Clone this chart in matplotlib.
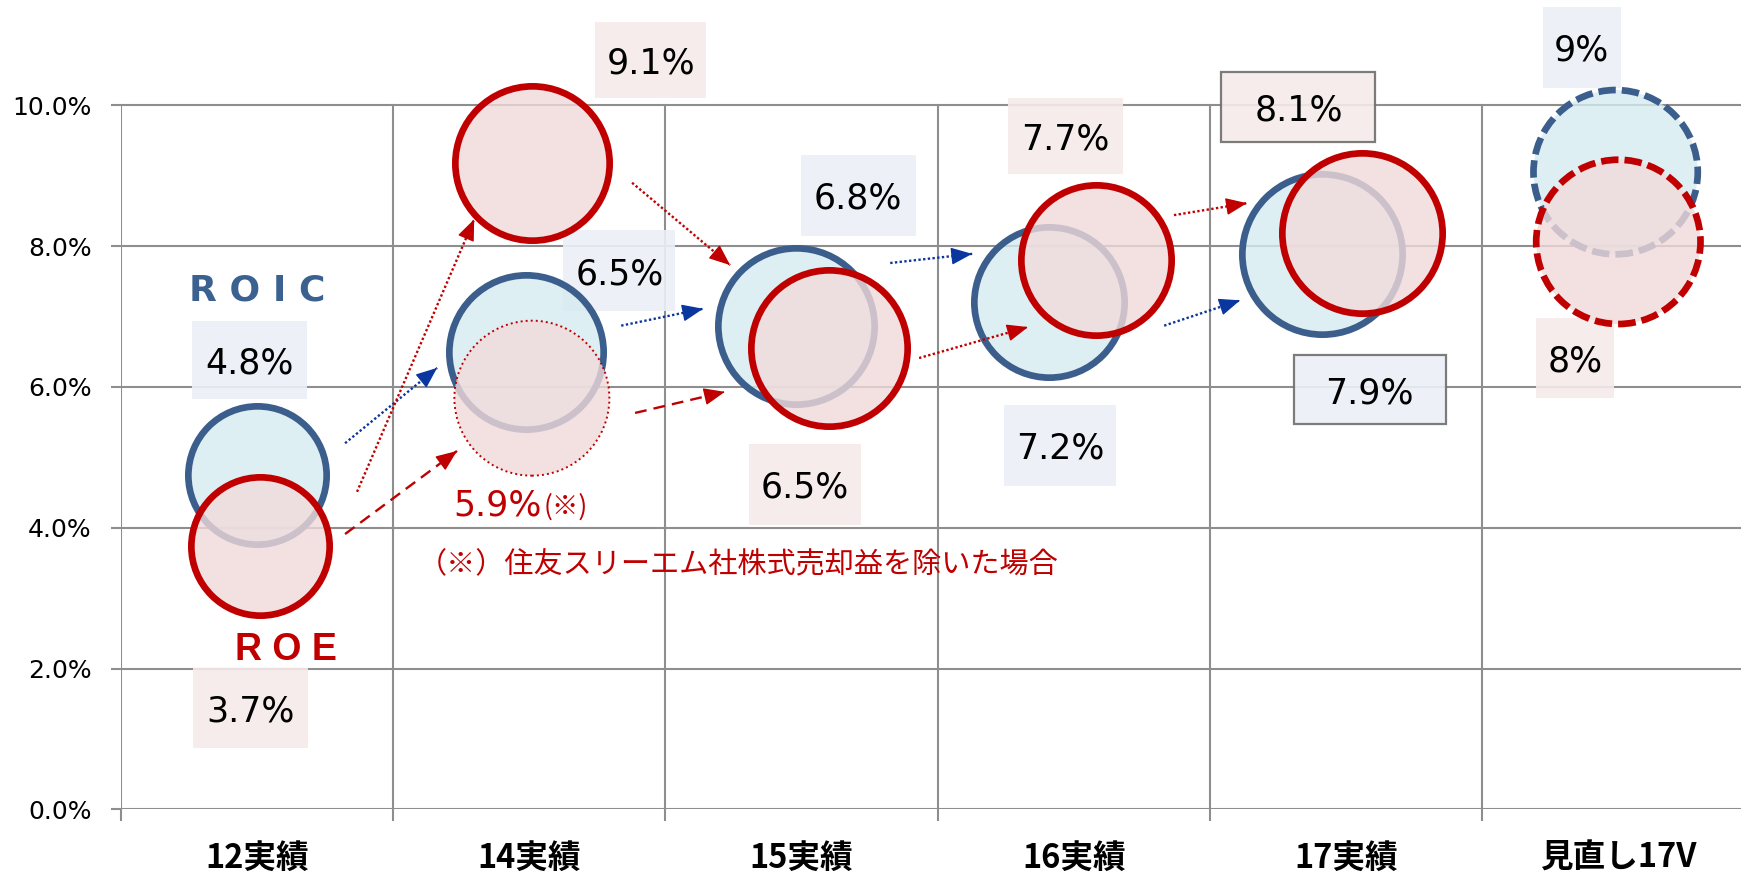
import matplotlib.pyplot as plt
from matplotlib.patches import Rectangle

# data
categories = ["12実績", "14実績", "15実績", "16実績", "17実績", "見直し17V"]
roic = [4.75, 6.50, 6.86, 7.20, 7.89, 9.05]
roe = [3.74, 9.18, 6.55, 7.80, 8.18, 8.06]
roe_adj = 5.84  # 14実績 ROE excluding the gain on sale of shares
roic_labels = ["4.8%", "6.5%", "6.8%", "7.2%", "7.9%", "9%"]
roe_labels = ["3.7%", "9.1%", "6.5%", "7.7%", "8.1%", "8%"]
roe_adj_label = "5.9%"
note = "（※）住友スリーエム社株式売却益を除いた場合"
yticks = [0, 2, 4, 6, 8, 10]

# layout (pixels)
W, H = 1741, 873
x_left, y_zero = 120.7, 809.3
px_cat, px_pct = 272.3, 70.4
bubble_px = [145, 161, 163, 157, 167, 171]
roic_dx = [0.0, -0.01, -0.02, -0.09, -0.09, -0.01]
roe_dx = [0.01, 0.01, 0.10, 0.08, 0.06, 0.0]
roic_lab = [(-7, 115, 115, 78), (93, 81, 112, 81), (62, 131, 115, 81),
            (11, -143, 112, 81), (48, -136, 152, 69), (-34, 125, 78, 81)]
roe_lab = [(-9, -162, 115, 80), (119, 103, 111, 76), (-24, -136, 112, 81),
           (-30, 124, 115, 76), (-64, 126, 154, 70), (-43, -116, 78, 80)]
boxed = [False, False, False, False, True, False]

BLUE = "#3B5E8C"
RED = "#C00000"
BLUE_FILL = (0.84, 0.92, 0.945, 0.8)
RED_FILL = (0.945, 0.855, 0.855, 0.8)
ARROW_BLUE = "#0A36A0"
GRID = "#8E8E8E"
CJK = ["Noto Sans CJK JP", "DejaVu Sans"]

fig = plt.figure(figsize=(W / 100, H / 100), dpi=100)
ax = fig.add_axes([x_left / W, (H - y_zero) / H, 1 - x_left / W, y_zero / H])
ax.set_xlim(-0.5, -0.5 + (W - x_left) / px_cat)
ax.set_ylim(0, y_zero / px_pct)

# grid
for v in yticks:
    ax.axhline(v, color=GRID, lw=1.5, zorder=1)
for b in range(6):
    ax.plot([b - 0.5, b - 0.5], [0, 10], color=GRID, lw=1.5, zorder=1)
for s in ax.spines.values():
    s.set_visible(False)
ax.set_yticks(yticks)
ax.set_yticklabels([f"{v:.1f}%" for v in yticks], fontsize=18)
ax.tick_params(axis="y", length=7, width=1.5, color=GRID, pad=14)
ax.set_xticks(range(6))
ax.set_xticklabels(categories, fontsize=23.5, fontweight="bold", family=CJK)
ax.tick_params(axis="x", length=0, pad=23.5)
ax.set_xticks([b - 0.5 for b in range(6)], minor=True)
ax.tick_params(axis="x", which="minor", length=8.5, width=1.5, color=GRID)


def marker_s(d, lw_px):
    return ((d - lw_px) * 0.72) ** 2


lw_px = 6.7
for i in range(6):
    ls = (0, (2.6, 0.9)) if i == 5 else "solid"
    ax.scatter(i + roic_dx[i], roic[i], s=marker_s(bubble_px[i], lw_px),
               facecolor=BLUE_FILL, edgecolor=BLUE, linewidth=lw_px * 0.72,
               linestyle=ls, zorder=3)
for i in range(6):
    ls = (0, (2.6, 0.9)) if i == 5 else "solid"
    ax.scatter(i + roe_dx[i], roe[i], s=marker_s(bubble_px[i], lw_px),
               facecolor=RED_FILL, edgecolor=RED, linewidth=lw_px * 0.72,
               linestyle=ls, zorder=4)
ax.scatter(1 + 0.01, roe_adj, s=marker_s(157, 2), facecolor=RED_FILL,
           edgecolor=RED, linewidth=1.4, linestyle=(0, (1, 1.6)), zorder=4)


def put_label(x, y, text, lab, fill, border):
    dx, dy, w, h = lab
    cx = x + dx / px_cat
    cy = y + dy / px_pct
    ax.add_patch(Rectangle((cx - w / 2 / px_cat, cy - h / 2 / px_pct),
                           w / px_cat, h / px_pct, facecolor=fill,
                           edgecolor="#6E6E6E" if border else "none",
                           lw=1.6, alpha=0.9, zorder=2.5))
    ax.text(cx, cy, text, ha="center", va="center_baseline", fontsize=25,
            color="black", zorder=6)


for i in range(6):
    put_label(i + roic_dx[i], roic[i], roic_labels[i], roic_lab[i], "#EBF0F7", boxed[i])
    put_label(i + roe_dx[i], roe[i], roe_labels[i], roe_lab[i], "#F5EAEA", boxed[i])

# adjusted ROE label
ax.text(1 + 0.01 + 10 / px_cat, roe_adj - 117 / px_pct, roe_adj_label,
        ha="right", va="baseline", fontsize=25, color=RED, zorder=6)
ax.text(1 + 0.01 + 12 / px_cat, roe_adj - 117 / px_pct, "(※)",
        ha="left", va="baseline", fontsize=19, color=RED, zorder=6, family=CJK)
ax.text(0.59, 3.47, note, ha="left", va="center", fontsize=21, color=RED,
        family=CJK, zorder=6)

# series names
ax.text(0, roic[0] + 184 / px_pct, "R O I C", ha="center", va="center",
        fontsize=26, fontweight="bold", color="#3A6190", zorder=6)
ax.text(0.107, 2.26, "R O E", ha="center", va="center", fontsize=27,
        fontweight="bold", color=RED, family="Liberation Sans", zorder=6)

# arrows (x0, y0, x1, y1, color, linestyle)
arrows = [
    (0.324, 5.20, 0.662, 6.27, ARROW_BLUE, (0, (1, 1))),
    (0.368, 4.51, 0.798, 8.38, RED, (0, (1, 1))),
    (0.324, 3.91, 0.735, 5.09, RED, (0, (5, 3))),
    (1.378, 8.90, 1.738, 7.73, RED, (0, (1, 1))),
    (1.338, 6.87, 1.639, 7.11, ARROW_BLUE, (0, (1, 1))),
    (1.389, 5.63, 1.719, 5.93, RED, (0, (5, 3))),
    (2.326, 7.76, 2.627, 7.89, ARROW_BLUE, (0, (1, 1))),
    (2.432, 6.41, 2.832, 6.85, RED, (0, (1, 1))),
    (3.368, 8.44, 3.636, 8.61, RED, (0, (1, 1))),
    (3.332, 6.87, 3.611, 7.23, ARROW_BLUE, (0, (1, 1))),
]
for x0, y0, x1, y1, c, ls in arrows:
    ax.plot([x0, x1], [y0, y1], color=c, lw=1.7, linestyle=ls, zorder=5)
    ax.annotate("", xy=(x1, y1), xytext=(x1 - 0.02 * (x1 - x0), y1 - 0.02 * (y1 - y0)),
                arrowprops=dict(arrowstyle="-|>,head_length=1.1,head_width=0.45",
                                color=c, lw=1, mutation_scale=12,
                                shrinkA=0, shrinkB=0), zorder=5)

fig.savefig("out.png", dpi=100)
